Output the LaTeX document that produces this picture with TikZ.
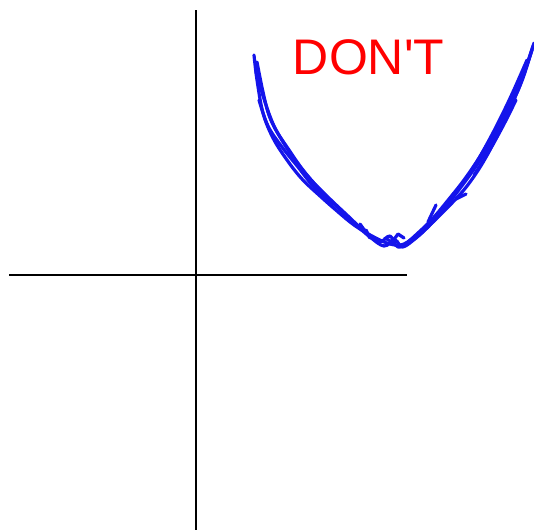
\documentclass[tikz,border=0pt]{standalone}
\usepackage{fontspec}
\newfontfamily\arialike{Liberation Sans}
\definecolor{scrib}{RGB}{20,20,235}
\definecolor{dred}{RGB}{255,0,0}
\begin{document}
\begin{tikzpicture}[x=1pt,y=-1pt,
  axis/.style={line width=2.6pt,black},
  scribble/.style={line width=3.2pt,scrib,line cap=round,line join=round}]
\useasboundingbox (0,0) rectangle (534,530);
\coordinate (vtop) at (196,10);
\coordinate (vbot) at (196,530);
\coordinate (hl) at (9,275);
\coordinate (hr) at (407,275);
\draw[axis] (vtop) -- (vbot);
\draw[axis] (hl) -- (hr);
\node[text=dred,font=\arialike\fontsize{50}{50}\selectfont,inner sep=0pt,anchor=base] (t) at (368.5,74) {DON'T};
\draw[scribble] plot[smooth,tension=0.6] coordinates {(254,55) (257,80) (263,113) (273,138) (287,160) (302,179) (320,196) (337,211) (354,225) (372,236) (390,244) (404,244) (419,232) (434,217) (449,199) (464,180) (479,158) (496,129) (512,98) (524,72) (534,43)};
\draw[scribble] plot[smooth,tension=0.6] coordinates {(257,62) (263,92) (270,118) (283,142) (298,164) (313,182) (331,200) (348,216) (364,231) (379,242) (390,236) (398,247) (412,241) (428,227) (444,209) (458,191) (472,172) (488,148) (503,120) (518,90) (532,50)};
\draw[scribble] plot[smooth,tension=0.6] coordinates {(256,72) (265,102) (275,128) (289,150) (303,170) (320,190) (337,207) (354,223) (370,237) (384,246) (395,240) (403,247) (418,236) (434,221) (452,203) (467,186) (482,164) (496,138) (511,106) (523,78) (533,46)};
\draw[scribble] plot[smooth,tension=0.6] coordinates {(259,100) (268,126) (282,147) (298,167) (314,187) (333,204)};
\draw[scribble] plot[smooth,tension=0.6] coordinates {(468,177) (482,153) (497,125) (512,94) (527,60)};
\draw[scribble] plot[smooth,tension=0.6] coordinates {(474,175) (488,153) (503,126) (516,100)};
\draw[scribble] (404,238) -- (398,234) -- (392,242) -- (385,238);
\draw[scribble] (360,224) -- (370,238) -- (366,230);
\draw[scribble] (436,205) -- (428,222);
\draw[scribble] (466,194) -- (456,199);
\draw[scribble] (490,146) -- (478,162);
\draw[scribble] (500,125) -- (493,140);
\end{tikzpicture}
\end{document}
